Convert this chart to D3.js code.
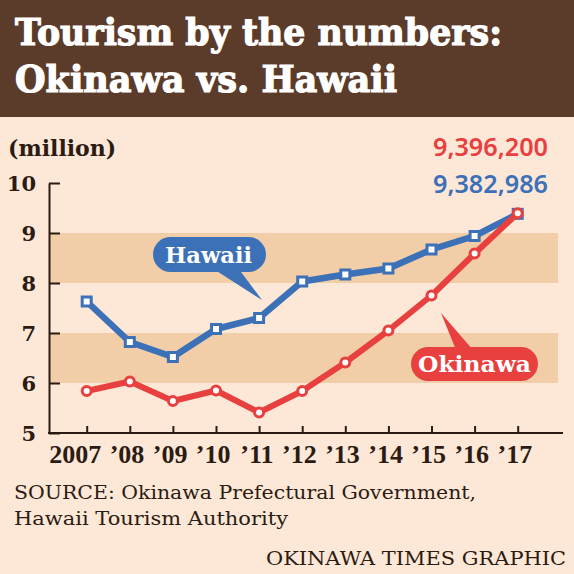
<!DOCTYPE html>
<html>
<head>
<meta charset="utf-8">
<script src="https://cdn.jsdelivr.net/npm/d3@7"></script>
<style>
    html, body { margin: 0; padding: 0; background: #fde8d7; }
    svg { display: block; }
</style>
</head>
<body>
<div id="chart"></div>
<script>
/*global d3*/
(function () {
    'use strict';

    // data (million visitors)
    var years = ['2007', '\u201908', '\u201909', '\u201910', '\u201911', '\u201912',
            '\u201913', '\u201914', '\u201915', '\u201916', '\u201917'],
        hawaii = [7.63, 6.82, 6.52, 7.08, 7.30, 8.03, 8.17, 8.29, 8.67, 8.94, 9.383],
        okinawa = [5.84, 6.03, 5.64, 5.85, 5.41, 5.84, 6.41, 7.05, 7.75, 8.59, 9.396],
        yTicks = [5, 6, 7, 8, 9, 10],
        bands = [[8, 9], [6, 7]],
        lastValues = ['9,396,200', '9,382,986'],

        width = 574,
        height = 574,
        axisLeft = 49,
        axisRight = 563,
        bandRight = 558,

        colors = {
            bg: '#fde8d7',
            header: '#5b3b2a',
            band: '#f1cda8',
            ink: '#2b1b12',
            blue: '#3d71b7',
            red: '#e8403f'
        },

        svg = d3.select('#chart')
            .append('svg')
            .attr('width', width)
            .attr('height', height),

        x = d3.scaleLinear().domain([0, years.length - 1]).range([86.7, 517.7]),
        y = d3.scaleLinear().domain([5, 10]).range([433, 183]);

    // squeeze or stretch a text node to a measured width
    function fit(sel, w) {
        var len = sel.node().getComputedTextLength();
        if (Math.abs(len - w) > 1) {
            sel.attr('textLength', w).attr('lengthAdjust', 'spacingAndGlyphs');
        }
        return sel;
    }

    svg.append('rect')
        .attr('width', width)
        .attr('height', height)
        .style('fill', colors.bg);

    // header
    svg.append('rect')
        .attr('width', width)
        .attr('height', 117)
        .style('fill', colors.header);

    [['Tourism by the numbers:', 45, 487], ['Okinawa vs. Hawaii', 92, 382]].forEach(function (t) {
        fit(svg.append('text')
            .attr('x', 15)
            .attr('y', t[1])
            .text(t[0])
            .style('font-family', 'DejaVu Serif')
            .style('font-weight', 'bold')
            .style('font-size', '37px')
            .style('fill', '#fff')
            .style('stroke', '#fff')
            .style('stroke-width', '1.2px'), t[2]);
    });

    // shaded bands
    svg.selectAll('.band')
        .data(bands)
        .enter()
        .append('rect')
        .attr('class', 'band')
        .attr('x', axisLeft)
        .attr('width', bandRight - axisLeft)
        .attr('y', function (d) { return y(d[1]); })
        .attr('height', function (d) { return y(d[0]) - y(d[1]); })
        .style('fill', colors.band);

    // y axis
    var gy = svg.append('g')
        .attr('transform', 'translate(' + axisLeft + ',0)')
        .call(d3.axisLeft(y)
            .tickValues(yTicks)
            .tickFormat(d3.format('d'))
            .tickSizeInner(-11)
            .tickSizeOuter(0)
            .tickPadding(13));
    gy.select('.domain').style('stroke', colors.ink).style('stroke-width', '2px');
    gy.selectAll('.tick line').style('stroke', colors.ink).style('stroke-width', '2px');
    gy.selectAll('.tick text')
        .attr('dy', '0.36em')
        .style('font-family', 'DejaVu Serif')
        .style('font-weight', 'bold')
        .style('font-size', '21px')
        .style('fill', colors.ink);

    svg.append('text')
        .attr('x', 8)
        .attr('y', 156)
        .text('(million)')
        .style('font-family', 'DejaVu Serif')
        .style('font-weight', 'bold')
        .style('font-size', '22px')
        .style('fill', colors.ink);

    // x axis
    var gx = svg.append('g')
        .attr('transform', 'translate(0,' + y(5) + ')')
        .call(d3.axisBottom(x)
            .tickValues(d3.range(years.length))
            .tickFormat(function (i) { return years[i]; })
            .tickSizeInner(-7)
            .tickSizeOuter(0));
    gx.select('.domain').remove();
    gx.append('line')
        .attr('x1', axisLeft - 1)
        .attr('x2', axisRight)
        .style('stroke', colors.ink)
        .style('stroke-width', '2px');
    gx.selectAll('.tick line').style('stroke', colors.ink).style('stroke-width', '2px');
    gx.selectAll('.tick text')
        .attr('y', 30)
        .attr('dy', 0)
        .attr('dx', 14)
        .attr('text-anchor', 'end')
        .style('font-family', 'Liberation Sans Narrow')
        .style('font-weight', 'bold')
        .style('font-size', '26px')
        .style('fill', colors.ink);

    // lines
    var line = d3.line()
        .x(function (d, i) { return x(i); })
        .y(function (d) { return y(d); });

    svg.append('path')
        .datum(hawaii)
        .attr('d', line)
        .style('fill', 'none')
        .style('stroke', colors.blue)
        .style('stroke-width', '6.5px')
        .style('stroke-linejoin', 'round');

    svg.selectAll('.sq')
        .data(hawaii)
        .enter()
        .append('rect')
        .attr('class', 'sq')
        .attr('x', function (d, i) { return x(i) - 4.5; })
        .attr('y', function (d) { return y(d) - 4.5; })
        .attr('width', 9)
        .attr('height', 9)
        .style('fill', '#fff')
        .style('stroke', colors.blue)
        .style('stroke-width', '3px');

    svg.append('path')
        .datum(okinawa)
        .attr('d', line)
        .style('fill', 'none')
        .style('stroke', colors.red)
        .style('stroke-width', '6px')
        .style('stroke-linejoin', 'round');

    svg.selectAll('.dot')
        .data(okinawa)
        .enter()
        .append('circle')
        .attr('class', 'dot')
        .attr('cx', function (d, i) { return x(i); })
        .attr('cy', function (d) { return y(d); })
        .attr('r', 4.5)
        .style('fill', '#fff')
        .style('stroke', colors.red)
        .style('stroke-width', '3px');

    // callouts
    function callout(opt) {
        var g = svg.append('g');
        g.append('path')
            .attr('d', 'M' + opt.tail.join('L') + 'Z')
            .style('fill', opt.color);
        g.append('rect')
            .attr('x', opt.x)
            .attr('y', opt.y)
            .attr('width', opt.w)
            .attr('height', opt.h)
            .attr('rx', opt.h / 2)
            .style('fill', opt.color);
        fit(g.append('text')
            .attr('x', opt.tx)
            .attr('y', opt.ty)
            .text(opt.label)
            .style('font-family', 'DejaVu Serif')
            .style('font-weight', 'bold')
            .style('font-size', '23px')
            .style('fill', '#fff'), opt.tw);
    }

    callout({
        label: 'Hawaii', color: colors.blue,
        x: 153, y: 237, w: 113, h: 35,
        tx: 165, ty: 263, tw: 87,
        tail: [[212, 268], [238, 268], [262, 300]]
    });

    callout({
        label: 'Okinawa', color: colors.red,
        x: 411, y: 347, w: 127, h: 34,
        tx: 418, ty: 372, tw: 113,
        tail: [[456, 350], [473, 350], [441, 313]]
    });

    // final values
    [colors.red, colors.blue].forEach(function (c, i) {
        fit(svg.append('text')
            .attr('x', 548)
            .attr('y', i === 0 ? 156 : 193)
            .attr('text-anchor', 'end')
            .text(lastValues[i])
            .style('font-family', 'Noto Sans')
            .style('font-weight', 600)
            .style('font-size', '26px')
            .style('fill', c), 115);
    });

    // source / credit
    fit(svg.append('text')
        .attr('x', 14)
        .attr('y', 499)
        .text('SOURCE: Okinawa Prefectural Government,')
        .style('font-family', 'DejaVu Serif')
        .style('font-size', '19px')
        .style('fill', colors.ink), 462);

    fit(svg.append('text')
        .attr('x', 14)
        .attr('y', 525)
        .text('Hawaii Tourism Authority')
        .style('font-family', 'DejaVu Serif')
        .style('font-size', '19px')
        .style('fill', colors.ink), 274);

    fit(svg.append('text')
        .attr('x', 566)
        .attr('y', 565)
        .attr('text-anchor', 'end')
        .text('OKINAWA TIMES GRAPHIC')
        .style('font-family', 'DejaVu Serif')
        .style('font-size', '19px')
        .style('fill', colors.ink), 300);
}());
</script>
</body>
</html>
